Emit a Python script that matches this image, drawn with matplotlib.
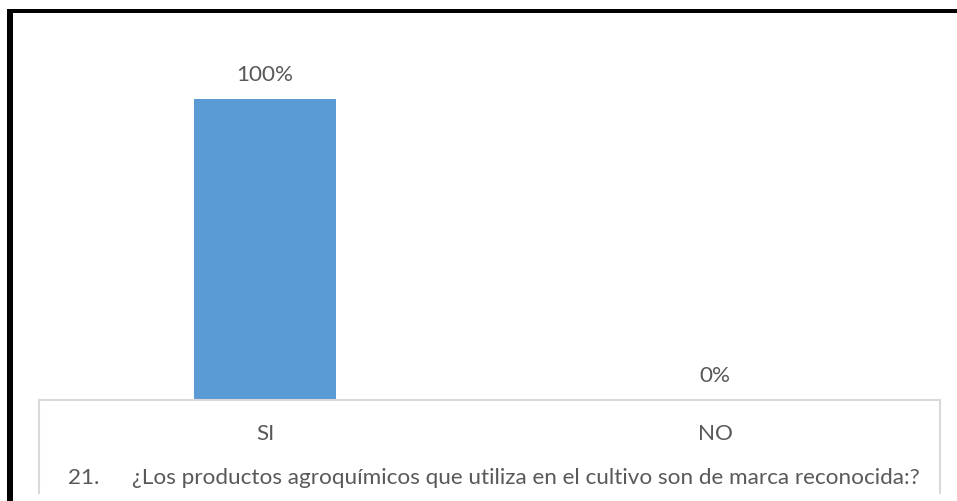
import matplotlib
matplotlib.use("Agg")
import matplotlib.pyplot as plt
from matplotlib.lines import Line2D
from matplotlib.patches import Rectangle

categories = ["SI", "NO"]
shares = [1.00, 0.00]
value_labels = ["100%", "0%"]
question_number = "21."
question_text = "¿Los productos agroquímicos que utiliza en el cultivo son de marca reconocida:?"

W, H, DPI = 957, 501, 100
TEXT = "#595959"
GRID = "#d9d9d9"
BAR = "#5b9bd5"
FONT = "Lato"
FS = 16.2

fig = plt.figure(figsize=(W / DPI, H / DPI), dpi=DPI)
fig.patch.set_facecolor("white")

def fx(px):
    return px / W

def fy(py):
    return 1 - py / H

# plot area: x 40..940 px, baseline at y=400 px, top at y=39 px
ax = fig.add_axes([fx(40), fy(400), fx(940) - fx(40), fy(39) - fy(400)])
x = range(len(categories))
ax.bar(x, shares, width=1 / 3.19, color=BAR, zorder=2)
ax.set_xlim(-0.5, len(categories) - 0.5)
ax.set_ylim(0, 1.2)
for s in ["top", "right", "left"]:
    ax.spines[s].set_visible(False)
ax.spines["bottom"].set_color(GRID)
ax.spines["bottom"].set_linewidth(1.5)
ax.set_yticks([])
ax.set_xticks(list(x))
ax.set_xticklabels(categories, fontsize=FS, color=TEXT, family=FONT)
ax.tick_params(axis="x", length=0, pad=17)

for xi, v, lab in zip(x, shares, value_labels):
    ax.annotate(lab, (xi, v), xytext=(0, 17.3), textcoords="offset points",
                ha="center", va="center", fontsize=FS, color=TEXT, family=FONT)

# box sides below the category axis
for px in (39, 940):
    fig.add_artist(Line2D([fx(px), fx(px)], [fy(400), fy(493)],
                          color=GRID, linewidth=1.5, transform=fig.transFigure))

# question caption
fig.text(fx(68), fy(478), question_number, ha="left", va="center",
         fontsize=FS, color=TEXT, family=FONT)
fig.text(fx(132), fy(478), question_text, ha="left", va="center",
         fontsize=FS, color=TEXT, family=FONT)

# outer frame (top and left edges)
fig.add_artist(Rectangle((fx(7), fy(12.5)), 1 - fx(7), fy(9) - fy(12.5),
                         facecolor="black", edgecolor="none", transform=fig.transFigure))
fig.add_artist(Rectangle((fx(7.5), 0), fx(12.5) - fx(7.5), fy(9),
                         facecolor="black", edgecolor="none", transform=fig.transFigure))

fig.savefig("out.png", dpi=DPI)
